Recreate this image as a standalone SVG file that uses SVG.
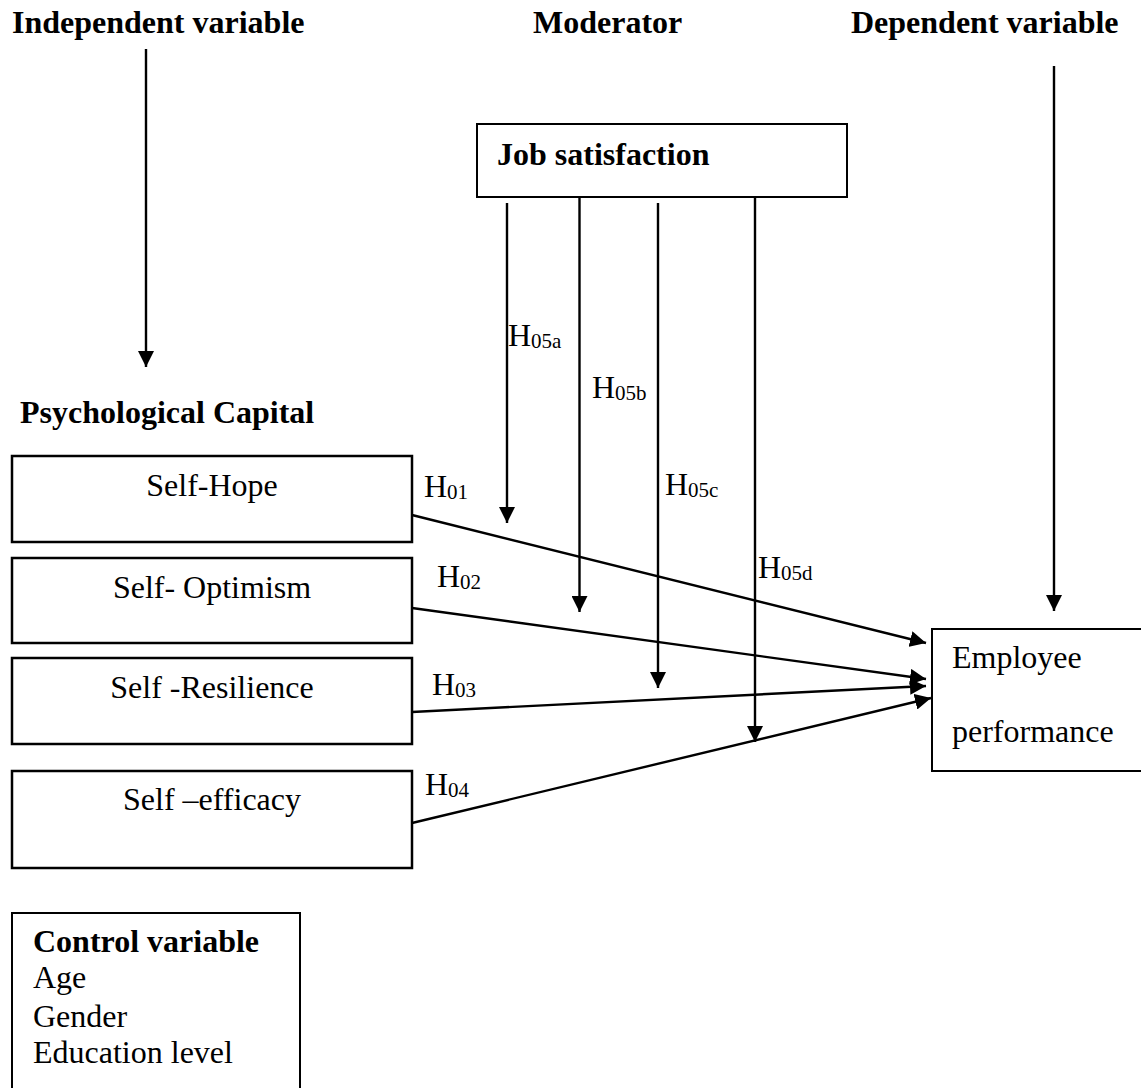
<svg xmlns="http://www.w3.org/2000/svg" width="1141" height="1088" viewBox="0 0 1141 1088">
<style>
text{font-family:"Liberation Serif","Times New Roman",serif;font-size:32px;fill:#000}
.b{font-weight:bold}
.sub{font-size:21px}
.box{fill:#fff;stroke:#000;stroke-width:2.5}
.thin{fill:#fff;stroke:#000;stroke-width:2}
.c{stroke:#000;stroke-width:2.4;fill:none}
</style>
<defs>
<marker id="ah" markerUnits="userSpaceOnUse" markerWidth="17" markerHeight="16" refX="16" refY="8" orient="auto">
<path d="M0,0 L16,8 L0,16 z" fill="#000"/>
</marker>
</defs>
<g id="headers">
<text class="b" x="12" y="33">Independent variable</text>
<text class="b" x="533" y="33">Moderator</text>
<text class="b" x="851" y="33">Dependent variable</text>
<text class="b" x="20" y="423">Psychological Capital</text>
</g>
<g id="job-satisfaction">
<rect class="thin" x="477" y="124" width="370" height="73"/>
<text class="b" x="497" y="165">Job satisfaction</text>
</g>
<g id="self-hope">
<rect class="box" x="12" y="456" width="400" height="86"/>
<text x="212" y="496" text-anchor="middle">Self-Hope</text>
</g>
<g id="self-optimism">
<rect class="box" x="12" y="558" width="400" height="85"/>
<text x="212" y="598" text-anchor="middle">Self- Optimism</text>
</g>
<g id="self-resilience">
<rect class="box" x="12" y="658" width="400" height="86"/>
<text x="212" y="698" text-anchor="middle">Self -Resilience</text>
</g>
<g id="self-efficacy">
<rect class="box" x="12" y="771" width="400" height="97"/>
<text x="212" y="810" text-anchor="middle">Self –efficacy</text>
</g>
<g id="employee-performance">
<rect class="thin" x="932" y="629" width="220" height="142"/>
<text x="952" y="668">Employee</text>
<text x="952" y="742">performance</text>
</g>
<g id="control-variable">
<rect class="thin" x="12" y="913" width="288" height="190"/>
<text class="b" x="33" y="952">Control variable</text>
<text x="33" y="988">Age</text>
<text x="33" y="1027">Gender</text>
<text x="33" y="1063">Education level</text>
</g>
<g id="connectors">
<line class="c" x1="146" y1="49" x2="146" y2="367" marker-end="url(#ah)"/>
<line class="c" x1="1054" y1="66" x2="1054" y2="611" marker-end="url(#ah)"/>
<line class="c" x1="507" y1="203" x2="507" y2="523" marker-end="url(#ah)"/>
<line class="c" x1="579.5" y1="197" x2="579.5" y2="612" marker-end="url(#ah)"/>
<line class="c" x1="658" y1="203" x2="658" y2="688" marker-end="url(#ah)"/>
<line class="c" x1="755" y1="198" x2="755" y2="742" marker-end="url(#ah)"/>
<line class="c" x1="412" y1="515" x2="926" y2="643" marker-end="url(#ah)"/>
<line class="c" x1="412" y1="608" x2="926" y2="679" marker-end="url(#ah)"/>
<line class="c" x1="412" y1="712" x2="926" y2="686" marker-end="url(#ah)"/>
<line class="c" x1="412" y1="823" x2="931" y2="698" marker-end="url(#ah)"/>
</g>
<g id="labels">
<text x="424" y="497">H<tspan class="sub" dy="2">01</tspan></text>
<text x="437" y="587">H<tspan class="sub" dy="2">02</tspan></text>
<text x="432" y="695">H<tspan class="sub" dy="2">03</tspan></text>
<text x="425" y="795">H<tspan class="sub" dy="2">04</tspan></text>
<text x="508" y="346">H<tspan class="sub" dy="2">05a</tspan></text>
<text x="592" y="398">H<tspan class="sub" dy="2">05b</tspan></text>
<text x="665" y="495">H<tspan class="sub" dy="2">05c</tspan></text>
<text x="758" y="578">H<tspan class="sub" dy="2">05d</tspan></text>
</g>
</svg>
